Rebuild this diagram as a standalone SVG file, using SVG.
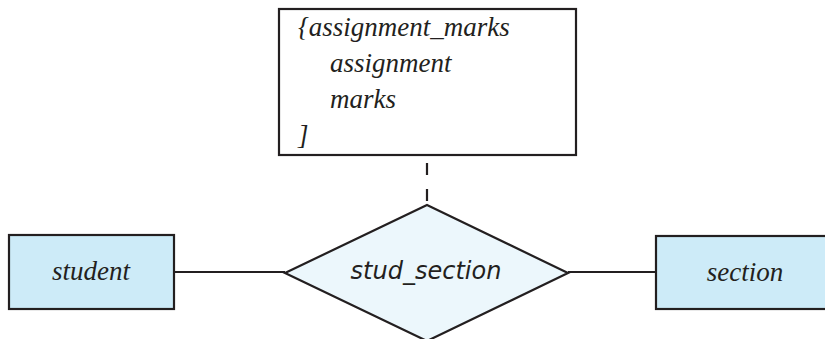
<svg xmlns="http://www.w3.org/2000/svg" width="825" height="339" viewBox="0 0 825 339">
<style>
.ent{fill:#cdebf8;stroke:#231f20;stroke-width:2.2}
.rel{fill:#ecf7fc;stroke:#231f20;stroke-width:2.2}
.box{fill:#ffffff;stroke:#231f20;stroke-width:2.2}
.ln{stroke:#231f20;stroke-width:2.2;fill:none}
.ser{font-family:'Liberation Serif','DejaVu Serif',serif;font-style:italic;font-size:27px;fill:#231f20}
.sans{font-family:'DejaVu Sans',sans-serif;font-style:oblique;font-size:24px;fill:#231f20}
</style>
<g id="connectors">
<line class="ln" x1="174" y1="272" x2="285" y2="272"/>
<line class="ln" x1="568" y1="272" x2="656" y2="272"/>
<line class="ln" x1="427" y1="163" x2="427" y2="205" stroke-dasharray="12,14"/>
</g>
<g id="attrs">
<rect class="box" x="279" y="9" width="297" height="146"/>
<text class="ser" x="298" y="36">{assignment_marks</text>
<text class="ser" x="330" y="72">assignment</text>
<text class="ser" x="330" y="108">marks</text>
<text class="ser" x="298" y="144">]</text>
</g>
<g id="student">
<rect class="ent" x="9" y="235" width="165" height="74"/>
<text class="ser" x="91" y="280" text-anchor="middle">student</text>
</g>
<g id="stud_section">
<polygon class="rel" points="427,205 568,273 427,341 285,273"/>
<text class="sans" x="426" y="279" text-anchor="middle">stud_section</text>
</g>
<g id="section">
<rect class="ent" x="656" y="236" width="180" height="73"/>
<text class="ser" x="745" y="281" text-anchor="middle">section</text>
</g>
</svg>
